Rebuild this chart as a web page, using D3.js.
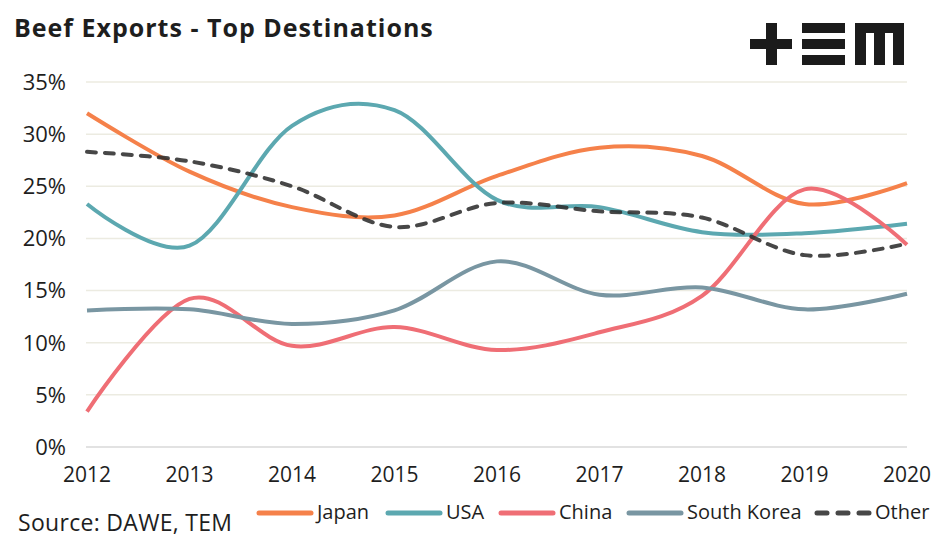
<!DOCTYPE html>
<html>
<head>
<meta charset="utf-8">
<script src="https://cdn.jsdelivr.net/npm/d3@7"></script>
<style>
  body { margin: 0; background: #fff; }
  svg { display: block; font-family: "Open Sans", Lato, sans-serif; }
</style>
</head>
<body>
<div id="viz"></div>
<script>
const years = [2012, 2013, 2014, 2015, 2016, 2017, 2018, 2019, 2020];
const japan = [32.0, 26.4, 23.0, 22.2, 26.0, 28.7, 27.9, 23.3, 25.3];
const usa = [23.3, 19.3, 30.8, 32.3, 23.7, 23.0, 20.6, 20.5, 21.4];
const china = [3.4, 14.2, 9.7, 11.5, 9.3, 11.0, 14.5, 24.7, 19.4];
const southKorea = [13.1, 13.2, 11.8, 13.1, 17.8, 14.6, 15.3, 13.2, 14.7];
const other = [28.3, 27.4, 25.0, 21.1, 23.4, 22.6, 22.0, 18.4, 19.5];
const yTicks = [0, 5, 10, 15, 20, 25, 30, 35];

const series = [
    { name: 'Japan', values: japan, color: '#f5814a', dash: null },
    { name: 'USA', values: usa, color: '#5ca8b0', dash: null },
    { name: 'China', values: china, color: '#ef6e75', dash: null },
    { name: 'South Korea', values: southKorea, color: '#7996a2', dash: null },
    { name: 'Other', values: other, color: 'rgba(45,45,45,0.88)', dash: '9 9' },
];

const W = 945, H = 539;
const svg = d3.select('#viz').append('svg').attr('width', W).attr('height', H);

const x = d3.scaleLinear().domain([2012, 2020]).range([87, 907]);
const y = d3.scaleLinear().domain([0, 35]).range([447, 82]);

// title
svg.append('text')
    .attr('x', 14).attr('y', 37)
    .attr('font-size', 25).attr('font-weight', 700)
    .attr('letter-spacing', 1)
    .attr('fill', '#1e1e1e')
    .text('Beef Exports - Top Destinations');

// logo
const logo = svg.append('g').attr('fill', '#1b1b1b');
[[766, 23, 11, 42], [750, 39, 42, 10],
 [802, 23, 43, 10], [802, 39, 43, 10], [802, 55, 43, 10],
 [855, 23, 49, 10], [855, 23, 11, 42], [874, 23, 11, 42], [893, 23, 11, 42]]
    .forEach(r => logo.append('rect').attr('x', r[0]).attr('y', r[1]).attr('width', r[2]).attr('height', r[3]));

// grid
svg.append('g')
    .selectAll('line')
    .data(yTicks)
    .join('line')
    .attr('x1', 86).attr('x2', 907)
    .attr('y1', d => y(d)).attr('y2', d => y(d))
    .attr('stroke', d => d === 0 ? '#d9d9d9' : '#ecebe1')
    .attr('stroke-width', 1.5);

// y labels
svg.append('g')
    .selectAll('text')
    .data(yTicks)
    .join('text')
    .attr('x', 66).attr('y', d => y(d))
    .attr('dy', '0.36em')
    .attr('text-anchor', 'end')
    .attr('font-size', 22)
    .attr('fill', '#1e1e1e')
    .text(d => d + '%');

// x labels
svg.append('g')
    .selectAll('text')
    .data(years)
    .join('text')
    .attr('x', d => x(d)).attr('y', 482)
    .attr('text-anchor', 'middle')
    .attr('font-size', 21)
    .attr('fill', '#1e1e1e')
    .text(d => d);

// lines
const line = d3.line()
    .x((d, i) => x(years[i]))
    .y(d => y(d))
    .curve(d3.curveCardinal.tension(0));

svg.append('g')
    .selectAll('path')
    .data(series)
    .join('path')
    .attr('d', d => line(d.values))
    .attr('fill', 'none')
    .attr('stroke', d => d.color)
    .attr('stroke-width', 4)
    .attr('stroke-linecap', d => d.dash ? 'round' : 'butt')
    .attr('stroke-dasharray', d => d.dash);

// legend
const legendX = [257, 386, 499, 627, 815];
const legend = svg.append('g');
series.forEach((s, i) => {
    const lx = legendX[i];
    legend.append('line')
        .attr('x1', lx + 2).attr('x2', lx + 54)
        .attr('y1', 513).attr('y2', 513)
        .attr('stroke', s.color)
        .attr('stroke-width', 5)
        .attr('stroke-linecap', 'round')
        .attr('stroke-dasharray', s.dash ? '10 11' : null);
    legend.append('text')
        .attr('x', lx + 60).attr('y', 512)
        .attr('dy', '0.36em')
        .attr('font-size', 20)
        .attr('fill', '#1e1e1e')
        .text(s.name);
});

// source
svg.append('text')
    .attr('x', 18).attr('y', 531)
    .attr('font-size', 23)
    .attr('letter-spacing', 0.3)
    .attr('fill', '#1e1e1e')
    .text('Source: DAWE, TEM');
</script>
</body>
</html>
